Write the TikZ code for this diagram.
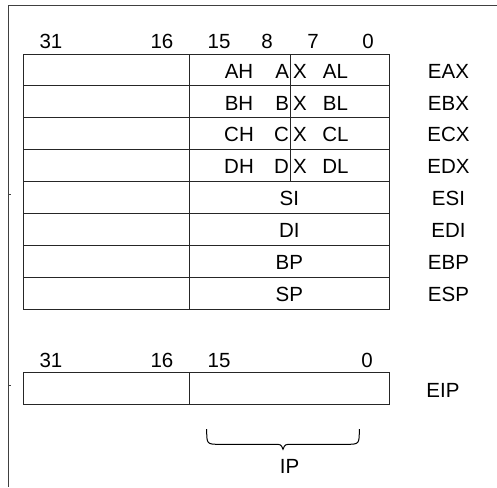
\documentclass[tikz,border=0pt]{standalone}
\usepackage{fontspec}
\setmainfont{Liberation Sans}
\tikzset{
  fld/.style={inner sep=0pt, yshift=-1.2pt, font=\fontsize{20.5}{24}\selectfont},
  bitno/.style={fld},
  regname/.style={fld},
  tbl/.style={line width=1pt, draw=black!85},
}
\begin{document}
\begin{tikzpicture}[x=1pt, y=-1pt]
            \useasboundingbox (0, 0) rectangle (497, 487);
            % outer frame (top and left only)
            \draw[line width=0.9pt, black!75] (497, 5.5) -- (8.5, 5.5) -- (8.5, 487);
            \draw[line width=0.6pt, black!75] (8.5, 194) -- (10.5, 194);
            \draw[line width=0.6pt, black!75] (8.5, 385.5) -- (10.5, 385.5);
            % general register table
            \draw[tbl] (23.5, 54) rectangle (389.5, 309);
            \draw[tbl] (189, 54) -- (189, 309);
            \draw[tbl] (290.5, 54) -- (290.5, 181.5);
            \draw[tbl] (23.5, 85.9) -- (389.5, 85.9);
            \draw[tbl] (23.5, 117.75) -- (389.5, 117.75);
            \draw[tbl] (23.5, 149.6) -- (389.5, 149.6);
            \draw[tbl] (23.5, 181.5) -- (389.5, 181.5);
            \draw[tbl] (23.5, 213.4) -- (389.5, 213.4);
            \draw[tbl] (23.5, 245.25) -- (389.5, 245.25);
            \draw[tbl] (23.5, 277.1) -- (389.5, 277.1);
            % bit numbers
            \node[bitno] (b31) at (51, 40) {31};
            \node[bitno] (b16) at (162, 40) {16};
            \node[bitno] (b15) at (219, 40) {15};
            \node[bitno] (b8) at (267, 40) {8};
            \node[bitno] (b7) at (313, 40) {7};
            \node[bitno] (b0) at (368, 40) {0};
            % byte registers
            \node[fld] (ah) at (239, 69.9) {AH};
            \node[fld, anchor=east] (axa) at (289.2, 69.9) {A};
            \node[fld, anchor=west] (axx) at (292.8, 69.9) {X};
            \node[fld] (al) at (335.5, 69.9) {AL};
            \node[fld] (bh) at (239, 101.8) {BH};
            \node[fld, anchor=east] (bxb) at (289.2, 101.8) {B};
            \node[fld, anchor=west] (bxx) at (292.8, 101.8) {X};
            \node[fld] (bl) at (335.5, 101.8) {BL};
            \node[fld] (ch) at (239, 133.7) {CH};
            \node[fld, anchor=east] (cxc) at (289.2, 133.7) {C};
            \node[fld, anchor=west] (cxx) at (292.8, 133.7) {X};
            \node[fld] (cl) at (335.5, 133.7) {CL};
            \node[fld] (dh) at (239, 165.6) {DH};
            \node[fld, anchor=east] (dxd) at (289.2, 165.6) {D};
            \node[fld, anchor=west] (dxx) at (292.8, 165.6) {X};
            \node[fld] (dl) at (335.5, 165.6) {DL};
            % word registers
            \node[fld] (si) at (289.3, 197.4) {SI};
            \node[fld] (di) at (289.3, 229.3) {DI};
            \node[fld] (bp) at (289.3, 261.2) {BP};
            \node[fld] (sp) at (289.3, 293.1) {SP};
            % 32-bit names
            \node[regname] (eax) at (448.5, 69.9) {EAX};
            \node[regname] (ebx) at (448.5, 101.8) {EBX};
            \node[regname] (ecx) at (448.5, 133.7) {ECX};
            \node[regname] (edx) at (448.5, 165.6) {EDX};
            \node[regname] (esi) at (448.5, 197.4) {ESI};
            \node[regname] (edi) at (448.5, 229.3) {EDI};
            \node[regname] (ebp) at (448.5, 261.2) {EBP};
            \node[regname] (esp) at (448.5, 293.1) {ESP};
            % instruction pointer
            \draw[tbl] (23.5, 372.7) rectangle (389.5, 404.3);
            \draw[tbl] (189, 372.7) -- (189, 404.3);
            \node[bitno] (ib31) at (51, 359.3) {31};
            \node[bitno] (ib16) at (162, 359.3) {16};
            \node[bitno] (ib15) at (219, 359.3) {15};
            \node[bitno] (ib0) at (367, 359.3) {0};
            \node[regname] (eip) at (443, 389) {EIP};
            % brace under the low word
            \coordinate (brl) at (206.7, 429);
            \coordinate (brr) at (359.3, 429);
            \coordinate (brtip) at (283, 449.3);
            \draw[line width=1pt] (brl) .. controls (206.7, 444.3) .. (220, 444.3) -- (274, 444.3)
                .. controls (281, 444.3) .. (brtip) .. controls (285, 444.3) .. (292, 444.3)
                -- (346, 444.3) .. controls (359.3, 444.3) .. (brr);
            \node[fld] (ip) at (289.5, 465.5) {IP};
        \end{tikzpicture}
\end{document}
